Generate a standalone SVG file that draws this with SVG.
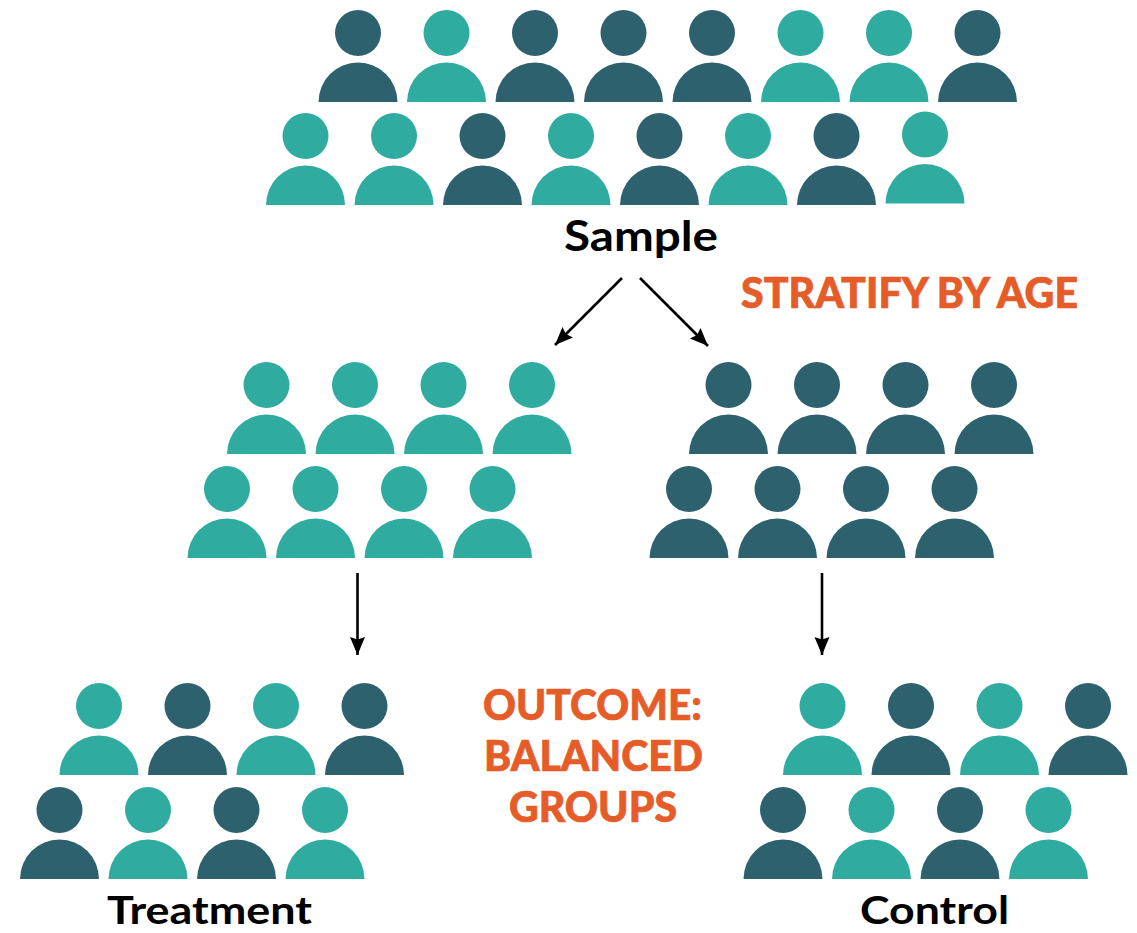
<svg xmlns="http://www.w3.org/2000/svg" xmlns:xlink="http://www.w3.org/1999/xlink" width="1137" height="933" viewBox="0 0 1137 933">
<style>
.t{fill:#2fab9f}.d{fill:#2e616e}
text{font-family:"Lato","Open Sans","Liberation Sans",sans-serif;font-weight:700;font-size:42px;text-anchor:start}
.o{fill:#e65c28;font-weight:900;stroke:#e65c28;stroke-width:.7}.k{fill:#000}
.b{font-size:39px}
.c line{stroke:#000;stroke-width:2.6;fill:none;marker-end:url(#a)}
</style>
<defs>
<marker id="a" markerUnits="userSpaceOnUse" markerWidth="22" markerHeight="18" refX="18" refY="7.500" orient="auto"><path d="M0 0L18 7.500L0 15L2.500 7.500Z" fill="#000"/></marker>
<g id="p"><circle cx="0" cy="-69" r="23"/><path d="M-39.5 0A39.5 39.5 0 0 1 39.5 0Z"/></g>
</defs>
<rect width="1137" height="933" fill="#fff"/>
<g id="connectors" class="c">
<line x1="622" y1="278" x2="555" y2="345"/>
<line x1="640" y1="278" x2="708" y2="346"/>
<line x1="357.500" y1="573" x2="357.500" y2="655"/>
<line x1="822" y1="573" x2="822" y2="655"/>
</g>
<g id="sample">
<use href="#p" class="d" x="358" y="102"/><use href="#p" class="t" x="446.500" y="102"/><use href="#p" class="d" x="535" y="102"/><use href="#p" class="d" x="623.500" y="102"/><use href="#p" class="d" x="712" y="102"/><use href="#p" class="t" x="800.500" y="102"/><use href="#p" class="t" x="889" y="102"/><use href="#p" class="d" x="977.500" y="102"/>
<use href="#p" class="t" x="305.500" y="205"/><use href="#p" class="t" x="394" y="205"/><use href="#p" class="d" x="482.500" y="205"/><use href="#p" class="t" x="571" y="205"/><use href="#p" class="d" x="659.500" y="205"/><use href="#p" class="t" x="748" y="205"/><use href="#p" class="d" x="836.500" y="205"/><use href="#p" class="t" x="925" y="203.500"/>
<text class="k" x="564" y="251" textLength="154" lengthAdjust="spacingAndGlyphs">Sample</text>
</g>
<g id="stratify"><text class="o" x="741" y="308" textLength="337" lengthAdjust="spacingAndGlyphs">STRATIFY BY AGE</text></g>
<g id="teal-stratum">
<use href="#p" class="t" x="266.500" y="454"/><use href="#p" class="t" x="355" y="454"/><use href="#p" class="t" x="443.500" y="454"/><use href="#p" class="t" x="532" y="454"/>
<use href="#p" class="t" x="227" y="558"/><use href="#p" class="t" x="315.500" y="558"/><use href="#p" class="t" x="404" y="558"/><use href="#p" class="t" x="492.500" y="558"/>
</g>
<g id="dark-stratum">
<use href="#p" class="d" x="728.500" y="454"/><use href="#p" class="d" x="817" y="454"/><use href="#p" class="d" x="905.500" y="454"/><use href="#p" class="d" x="994" y="454"/>
<use href="#p" class="d" x="689" y="558"/><use href="#p" class="d" x="777.500" y="558"/><use href="#p" class="d" x="866" y="558"/><use href="#p" class="d" x="954.500" y="558"/>
</g>
<g id="treatment">
<use href="#p" class="t" x="99" y="775"/><use href="#p" class="d" x="187.500" y="775"/><use href="#p" class="t" x="276" y="775"/><use href="#p" class="d" x="364.500" y="775"/>
<use href="#p" class="d" x="59.500" y="879"/><use href="#p" class="t" x="148" y="879"/><use href="#p" class="d" x="236.500" y="879"/><use href="#p" class="t" x="325" y="879"/>
<text class="k b" x="107" y="924" textLength="205" lengthAdjust="spacingAndGlyphs">Treatment</text>
</g>
<g id="outcome">
<text class="o" x="483" y="720" textLength="219" lengthAdjust="spacingAndGlyphs">OUTCOME:</text>
<text class="o" x="484" y="771" textLength="219" lengthAdjust="spacingAndGlyphs">BALANCED</text>
<text class="o" x="509" y="822" textLength="168" lengthAdjust="spacingAndGlyphs">GROUPS</text>
</g>
<g id="control">
<use href="#p" class="t" x="822.500" y="775"/><use href="#p" class="d" x="911" y="775"/><use href="#p" class="t" x="999.500" y="775"/><use href="#p" class="d" x="1088" y="775"/>
<use href="#p" class="d" x="783" y="879"/><use href="#p" class="t" x="871.500" y="879"/><use href="#p" class="d" x="960" y="879"/><use href="#p" class="t" x="1048.500" y="879"/>
<text class="k b" x="860" y="924" textLength="149" lengthAdjust="spacingAndGlyphs">Control</text>
</g>
</svg>
